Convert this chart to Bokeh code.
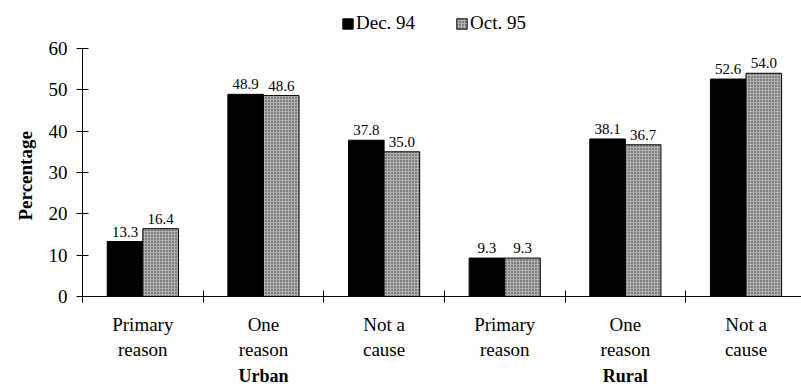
from bokeh.plotting import figure
from bokeh.models import (ColumnDataSource, Range1d, FixedTicker, LinearAxis,
                          LabelSet, Legend, Title)
from bokeh.embed import file_html
from bokeh.resources import INLINE

# Survey answers: share of respondents, by area and answer
categories = ["Primary\nreason", "One\nreason", "Not a\ncause",
              "Primary\nreason", "One\nreason", "Not a\ncause"]
groups = ["Urban", "Rural"]
dec_94 = [13.3, 48.9, 37.8, 9.3, 38.1, 52.6]
oct_95 = [16.4, 48.6, 35.0, 9.3, 36.7, 54.0]
y_ticks = [0, 10, 20, 30, 40, 50, 60]

FONT = "Liberation Serif"
BAR_W = 0.295

centers = [i + 0.5 for i in range(len(categories))]
src = ColumnDataSource(dict(
    x_dec=[c - BAR_W / 2 for c in centers],
    x_oct=[c + BAR_W / 2 for c in centers],
    dec=dec_94,
    oct=oct_95,
    dec_txt=[f"{v:.1f}" for v in dec_94],
    oct_txt=[f"{v:.1f}" for v in oct_95],
))

p = figure(width=801, height=388, output_backend="svg", toolbar_location=None,
           x_range=Range1d(0, 5.96), y_range=Range1d(0, 71.6),
           min_border_top=0, min_border_right=0, min_border_left=82,
           min_border_bottom=92)
p.xaxis.visible = False
p.yaxis.visible = False
p.grid.visible = False
p.outline_line_color = None
p.background_fill_color = "white"
p.border_fill_color = "white"

r_dec = p.vbar(x="x_dec", top="dec", width=BAR_W, bottom=0, source=src,
               fill_color="black", line_color="black", line_width=1)
r_oct = p.vbar(x="x_oct", top="oct", width=BAR_W, bottom=0, source=src,
               fill_color="#b0b0b0", line_color="black", line_width=1,
               hatch_pattern="dot", hatch_color="#333333", hatch_scale=3,
               hatch_weight=1)

for xcol, ycol, tcol in (("x_dec", "dec", "dec_txt"), ("x_oct", "oct", "oct_txt")):
    p.add_layout(LabelSet(x=xcol, y=ycol, text=tcol, source=src,
                          text_align="center", text_baseline="bottom",
                          y_offset=5, text_font=FONT, text_font_size="15px",
                          text_color="black"))

# y axis, drawn only over 0..60
yax = LinearAxis(ticker=FixedTicker(ticks=y_ticks), bounds=(0, 60))
yax.major_tick_in = 6
yax.major_tick_out = 6
yax.minor_tick_line_color = None
yax.major_label_standoff = 9
yax.major_label_text_font = FONT
yax.major_label_text_font_size = "19px"
yax.major_label_text_color = "black"
yax.axis_line_color = "black"
yax.major_tick_line_color = "black"
p.add_layout(yax, "left")

# y axis title, placed at the middle of the 0..60 span
p.add_layout(Title(text="Percentage", align="left", offset=76, standoff=19,
                   text_font=FONT, text_font_size="19px",
                   text_font_style="bold", text_color="black"), "left")

# x axis: category labels at centers, boundary ticks as minor ticks
xax = LinearAxis(ticker=FixedTicker(ticks=centers,
                                    minor_ticks=list(range(len(categories) + 1))))
xax.major_label_overrides = {c: lab for c, lab in zip(centers, categories)}
xax.major_tick_in = 0
xax.major_tick_out = 0
xax.minor_tick_in = 6
xax.minor_tick_out = 6
xax.minor_tick_line_color = "black"
xax.axis_line_color = "black"
xax.major_label_standoff = 11
xax.major_label_text_font = FONT
xax.major_label_text_font_size = "19px"
xax.major_label_text_color = "black"
p.add_layout(xax, "below")

# group axis: area names under the middle category of each group
gax = LinearAxis(ticker=FixedTicker(ticks=[1.5, 4.5], minor_ticks=[]))
gax.major_label_overrides = {1.5: groups[0], 4.5: groups[1]}
gax.axis_line_color = None
gax.major_tick_line_color = None
gax.minor_tick_line_color = None
gax.major_label_standoff = -3
gax.major_label_text_font = FONT
gax.major_label_text_font_size = "18px"
gax.major_label_text_font_style = "bold"
gax.major_label_text_color = "black"
p.add_layout(gax, "below")

legend = Legend(items=[("Dec. 94", [r_dec]), ("Oct. 95", [r_oct])],
                location=(259, 262), orientation="horizontal",
                label_text_font=FONT, label_text_font_size="19px",
                label_text_color="black", glyph_width=13, glyph_height=13,
                label_standoff=2, spacing=40, padding=0, margin=0,
                border_line_color=None, background_fill_alpha=0)
p.add_layout(legend)

open("out.html", "w").write(file_html(p, INLINE))
